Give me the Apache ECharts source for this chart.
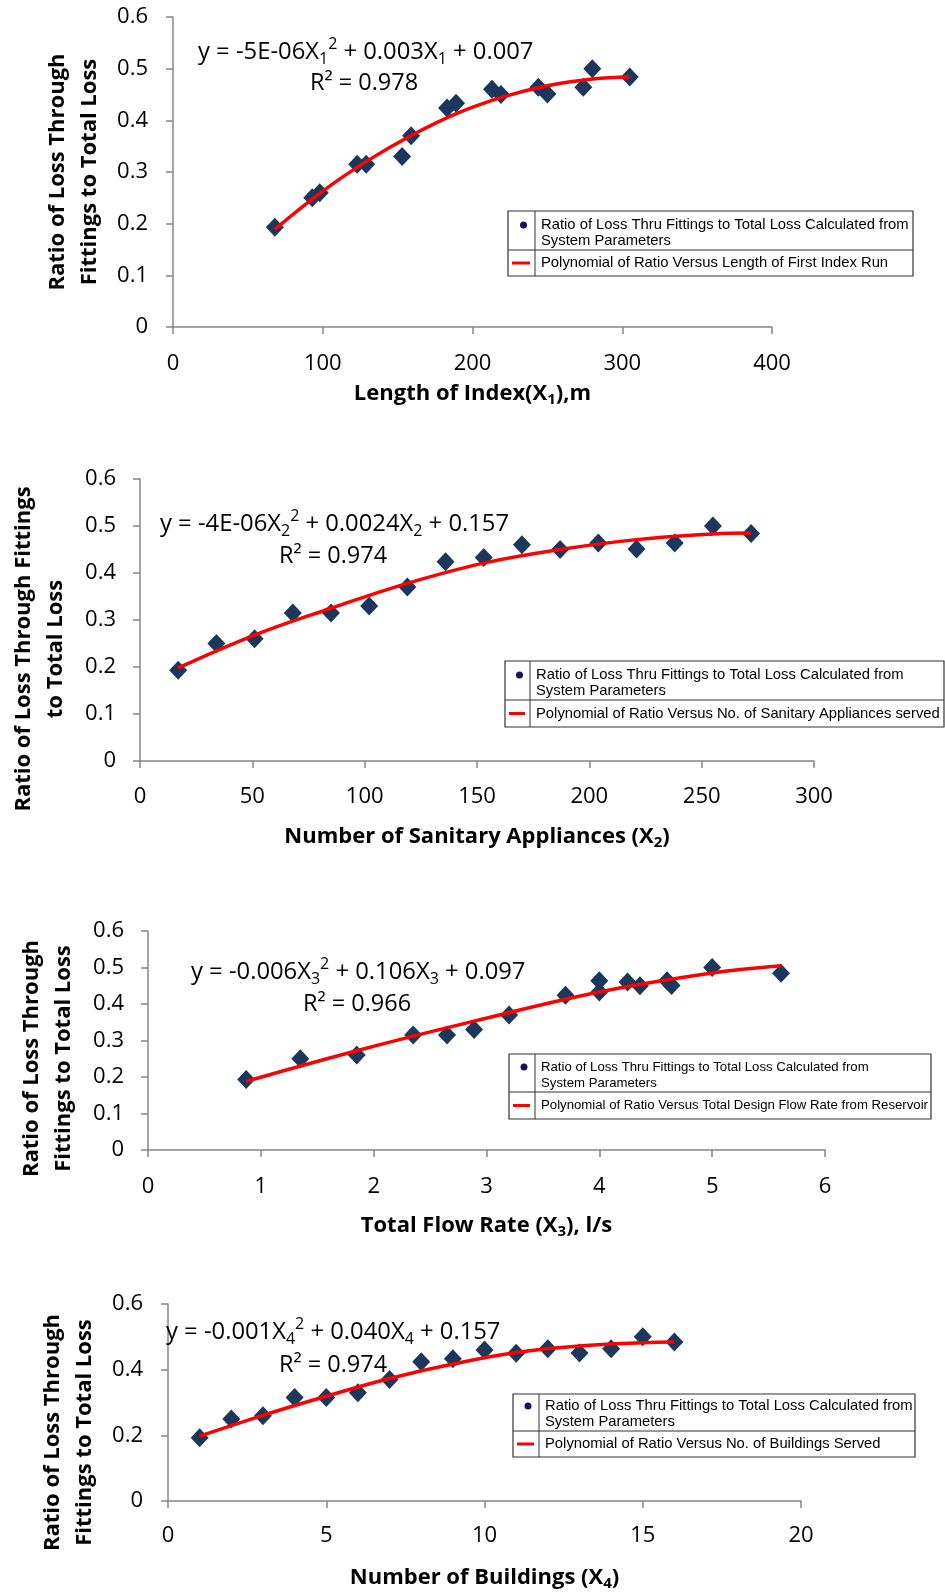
<!DOCTYPE html>
<html>
<head>
<meta charset="utf-8">
<title>Ratio of loss through fittings</title>
<script src="https://cdn.jsdelivr.net/npm/echarts@6/dist/echarts.min.js"></script>
<style>
  html, body { margin: 0; padding: 0; background: #fff; }
  #chart { width: 945px; height: 1593px; }
</style>
</head>
<body>
<div id="chart"></div>
<script>
// ratio of loss through fittings to total loss, 16 runs (same in all four panels)
const ratioY = [0.193, 0.25, 0.26, 0.315, 0.315, 0.33, 0.37, 0.424, 0.433, 0.46, 0.45, 0.464, 0.451, 0.464, 0.5, 0.484];

// explanatory variables for the same runs
const lengthX1 = [68, 93, 98, 123, 129, 153, 159, 183, 189, 213, 219, 244, 250, 274, 280, 305];
const appliancesX2 = [17, 34, 51, 68, 85, 102, 119, 136, 153, 170, 187, 204, 221, 238, 255, 272];
const flowX3 = [0.87, 1.35, 1.85, 2.35, 2.65, 2.89, 3.2, 3.7, 4.0, 4.25, 4.36, 4.0, 4.64, 4.6, 5.0, 5.61];
const buildingsX4 = [1, 2, 3, 4, 5, 6, 7, 8, 9, 10, 11, 12, 13, 14, 15, 16];

// red trend curves
const fit1X = [68, 100, 130, 160, 190, 220, 250, 280, 305];
const fit1Y = [0.189, 0.263, 0.322, 0.372, 0.414, 0.445, 0.467, 0.48, 0.484];
const fit2X = [17, 51, 85, 119, 153, 187, 221, 255, 272];
const fit2Y = [0.198, 0.268, 0.325, 0.378, 0.421, 0.45, 0.471, 0.483, 0.485];
const fit3X = [0.87, 1.85, 2.89, 4.0, 5.0, 5.61];
const fit3Y = [0.188, 0.272, 0.353, 0.433, 0.485, 0.505];
const fit4X = [1, 3, 5, 7, 9, 11, 13, 15, 16];
const fit4Y = [0.1975, 0.261, 0.319, 0.373, 0.417, 0.452, 0.472, 0.482, 0.484];

// axis ranges [min, max, interval]
const xRange1 = [0, 400, 100];
const xRange2 = [0, 300, 50];
const xRange3 = [0, 6, 1];
const xRange4 = [0, 20, 5];
const yRange123 = [0, 0.6, 0.1];
const yRange4 = [0, 0.6, 0.2];

// texts
const yName1 = 'Ratio of Loss Through\nFittings to Total Loss';
const yName2 = 'Ratio of Loss Through Fittings\nto Total Loss';
const xName1 = 'Length of Index(X{s|1}),m';
const xName2 = 'Number of Sanitary Appliances (X{s|2})';
const xName3 = 'Total Flow Rate (X{s|3}), l/s';
const xName4 = 'Number of Buildings (X{s|4})';
const eq1 = 'y = -5E-06X{sub|1}{sup|2} + 0.003X{sub|1} + 0.007';
const eq2 = 'y = -4E-06X{sub|2}{sup|2} + 0.0024X{sub|2} + 0.157';
const eq3 = 'y = -0.006X{sub|3}{sup|2} + 0.106X{sub|3} + 0.097';
const eq4 = 'y = -0.001X{sub|4}{sup|2} + 0.040X{sub|4} + 0.157';
const r2Texts = ['R² = 0.978', 'R² = 0.974', 'R² = 0.966', 'R² = 0.974'];
const pointsLegend = 'Ratio of Loss Thru Fittings to Total Loss Calculated from\nSystem Parameters';
const fitLegends = [
  'Polynomial of Ratio Versus Length of First Index Run',
  'Polynomial of Ratio Versus No. of Sanitary Appliances served',
  'Polynomial of Ratio Versus Total Design Flow Rate from Reservoir',
  'Polynomial of Ratio Versus No. of Buildings Served'
];

const FONT = '"Open Sans", "DejaVu Sans", sans-serif';
const LEG_FONT = '"Liberation Sans", Arial, sans-serif';
const AXIS_GREY = '#868686';

// layout of each panel
const panels = [
  {
    grid: { left: 173, top: 17, width: 599, height: 310 },
    xs: lengthX1, fx: fit1X, fy: fit1Y, xr: xRange1, yr: yRange123,
    yName: yName1, yGap: 67, yShift: 0, xName: xName1, xGap: 53, xMargin: 26, yMargin: 25,
    eq: eq1, eqPos: [198, 52], r2Pos: [364, 83],
    legend: { x: 508, y: 211, w: 405, h: 65, col: 27, row: 39, size: 14.8 }
  },
  {
    grid: { left: 137, top: 479, width: 677, height: 282 },
    xs: appliancesX2, fx: fit2X, fy: fit2Y, xr: xRange2, yr: yRange123,
    yName: yName2, yGap: 68, yShift: 29, xName: xName2, xGap: 62, xMargin: 25, yMargin: 24,
    eq: eq2, eqPos: [160, 524], r2Pos: [333, 556],
    legend: { x: 505, y: 661, w: 439, h: 66, col: 25, row: 39, size: 14.8 }
  },
  {
    grid: { left: 148, top: 931, width: 677, height: 219 },
    xs: flowX3, fx: fit3X, fy: fit3Y, xr: xRange3, yr: yRange123,
    yName: yName1, yGap: 68, yShift: 18, xName: xName3, xGap: 62, xMargin: 26, yMargin: 24,
    eq: eq3, eqPos: [191, 972], r2Pos: [357, 1004],
    legend: { x: 509, y: 1054, w: 422, h: 65, col: 26, row: 38, size: 13.2 }
  },
  {
    grid: { left: 168, top: 1304, width: 633, height: 197 },
    xs: buildingsX4, fx: fit4X, fy: fit4Y, xr: xRange4, yr: yRange4,
    yName: yName1, yGap: 67, yShift: 30, xName: xName4, xGap: 63, xMargin: 24, yMargin: 25,
    eq: eq4, eqPos: [166, 1332], r2Pos: [333, 1365],
    legend: { x: 513, y: 1394, w: 402, h: 63, col: 26, row: 37, size: 14.8 }
  }
];

const grids = [], xAxes = [], yAxes = [], series = [], graphics = [];

const eqRich = {
  sub: { fontFamily: FONT, fontSize: 16, lineHeight: 31, verticalAlign: 'bottom', fill: '#000' },
  sup: { fontFamily: FONT, fontSize: 16, lineHeight: 31, verticalAlign: 'top', fill: '#000' }
};

panels.forEach((p, i) => {
  grids.push(Object.assign({ containLabel: false }, p.grid));

  xAxes.push({
    gridIndex: i, type: 'value',
    min: p.xr[0], max: p.xr[1], interval: p.xr[2],
    name: p.xName, nameLocation: 'middle', nameGap: p.xGap,
    nameTextStyle: {
      fontFamily: FONT, fontSize: 22, fontWeight: 'bold', color: '#000', lineHeight: 27,
      rich: { s: { fontFamily: FONT, fontSize: 15, fontWeight: 'bold', color: '#000', lineHeight: 27, verticalAlign: 'bottom' } }
    },
    axisLine: { onZero: false, lineStyle: { color: AXIS_GREY, width: 1.5 } },
    axisTick: { show: true, length: 7, lineStyle: { color: AXIS_GREY, width: 1.5 } },
    axisLabel: { fontFamily: FONT, fontSize: 22, color: '#000', margin: p.xMargin },
    splitLine: { show: false }
  });

  yAxes.push({
    gridIndex: i, type: 'value',
    min: p.yr[0], max: p.yr[1], interval: p.yr[2],
    name: p.yName, nameLocation: 'middle', nameRotate: 90, nameGap: p.yGap,
    nameTextStyle: {
      fontFamily: FONT, fontSize: 22, fontWeight: 'bold', color: '#000', lineHeight: 32,
      padding: [0, p.yShift * 2, 0, 0]
    },
    axisLine: { show: true, lineStyle: { color: AXIS_GREY, width: 1.5 } },
    axisTick: { show: true, length: 7, lineStyle: { color: AXIS_GREY, width: 1.5 } },
    axisLabel: { fontFamily: FONT, fontSize: 22, color: '#000', margin: p.yMargin },
    splitLine: { show: false }
  });

  series.push({
    type: 'scatter', xAxisIndex: i, yAxisIndex: i,
    symbol: 'diamond', symbolSize: [18, 19],
    itemStyle: { color: '#1B375C', opacity: 1 },
    data: p.xs.map((x, k) => [x, ratioY[k]]),
    z: 2
  });
  series.push({
    type: 'line', xAxisIndex: i, yAxisIndex: i,
    smooth: 0.4, showSymbol: false,
    lineStyle: { color: '#FF0000', width: 3.5 },
    data: p.fx.map((x, k) => [x, p.fy[k]]),
    z: 3
  });

  // trend line equation and R²
  graphics.push({
    type: 'text', x: p.eqPos[0], y: p.eqPos[1], z: 10,
    style: {
      text: p.eq, rich: eqRich, fontFamily: FONT, fontSize: 23.8, lineHeight: 31,
      fill: '#000', align: 'left', verticalAlign: 'middle'
    }
  });
  graphics.push({
    type: 'text', x: p.r2Pos[0], y: p.r2Pos[1], z: 10,
    style: {
      text: r2Texts[i], fontFamily: FONT, fontSize: 23.5, fill: '#000',
      align: 'center', verticalAlign: 'middle'
    }
  });

  // boxed legend, Excel style
  const L = p.legend;
  graphics.push({
    type: 'group', x: L.x, y: L.y, z: 20,
    children: [
      { type: 'rect', shape: { x: 0, y: 0, width: L.w, height: L.h }, style: { fill: '#fff', stroke: '#333', lineWidth: 1.2 } },
      { type: 'line', shape: { x1: L.col, y1: 0, x2: L.col, y2: L.h }, style: { stroke: '#333', lineWidth: 1 } },
      { type: 'line', shape: { x1: 0, y1: L.row, x2: L.w, y2: L.row }, style: { stroke: '#333', lineWidth: 1 } },
      { type: 'circle', shape: { cx: L.col / 2 + 2, cy: L.row - 25, r: 3.5 }, style: { fill: '#14145e' } },
      { type: 'line', shape: { x1: 4, y1: (L.row + L.h) / 2, x2: L.col - 5, y2: (L.row + L.h) / 2 }, style: { stroke: '#FF0000', lineWidth: 3 } },
      {
        type: 'text', x: L.col + 6, y: L.row - 33,
        style: { text: pointsLegend, fontFamily: LEG_FONT, fontSize: L.size, lineHeight: 16, fill: '#000', verticalAlign: 'top' }
      },
      {
        type: 'text', x: L.col + 6, y: (L.row + L.h) / 2,
        style: { text: fitLegends[i], fontFamily: LEG_FONT, fontSize: L.size, fill: '#000', verticalAlign: 'middle' }
      }
    ]
  });
});

const chart = echarts.init(document.getElementById('chart'));
chart.setOption({
  animation: false,
  backgroundColor: '#fff',
  grid: grids,
  xAxis: xAxes,
  yAxis: yAxes,
  series: series,
  graphic: graphics
});
</script>
</body>
</html>
